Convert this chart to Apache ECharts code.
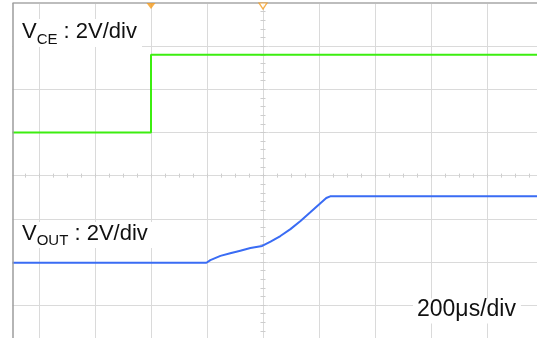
<!DOCTYPE html>
<html><head><meta charset="utf-8">
<script src="https://cdn.jsdelivr.net/npm/echarts@6/dist/echarts.min.js"></script>
<style>html,body{margin:0;padding:0;background:#fff}#c{width:537px;height:338px}</style>
</head><body><div id="c"></div>
<script>
// time in µs relative to screen centre (200 µs/div), vertical in divisions
const vceTime = [-1000, -400, -400, 1000];
const vceDiv = [1.0, 1.0, 2.8, 2.8];
const voutTime = [-1000, -202, -188, -152, -117, -81, -45, -3, 27, 62, 98, 134, 169, 205, 226, 240, 1000];
const voutDiv = [-2.02, -2.02, -1.96, -1.86, -1.80, -1.74, -1.68, -1.63, -1.53, -1.40, -1.24, -1.05, -0.85, -0.64, -0.52, -0.48, -0.48];
const triggerTime = [-400];
const centerTime = [0];
const vceLabel = ['V', 'CE', ' : 2V/div'];
const voutLabel = ['V', 'OUT', ' : 2V/div'];
const timeLabel = '200μs/div';

const FONT = 'Liberation Sans, Arial, sans-serif';
const gridColor = '#dadada';
const tickColor = '#cdcdcd';
const xMin = -1000, xMax = 1000, yMin = -4, yMax = 4;

function tickAxis(pos, splitNum, len) {
  const vertical = pos === 'left' || pos === 'right';
  return {
    type: 'value', min: vertical ? yMin : xMin, max: vertical ? yMax : xMax,
    interval: vertical ? 1 : 200,
    position: pos,
    axisLine: { show: true, onZero: true, lineStyle: { color: gridColor, width: 1 } },
    axisTick: { show: true, length: len, lineStyle: { color: tickColor } },
    minorTick: { show: true, splitNumber: splitNum, length: len, lineStyle: { color: tickColor } },
    axisLabel: { show: false },
    splitLine: { show: false }
  };
}
function txt(size, lh, extra) {
  return Object.assign({ fontSize: size, fontFamily: FONT, fontWeight: 'normal', color: '#111', lineHeight: lh }, extra || {});
}

const chart = echarts.init(document.getElementById('c'), null, { renderer: 'canvas' });
chart.setOption({
  animation: false,
  backgroundColor: '#fff',
  grid: { left: -17, right: -6, top: 3, bottom: -10.2, containLabel: false, outerBoundsMode: 'none' },
  xAxis: [
    {
      type: 'value', min: xMin, max: xMax, interval: 200, position: 'top',
      axisLine: { show: true, onZero: false, lineStyle: { color: '#bdbdbd', width: 2 } },
      axisTick: { show: false }, axisLabel: { show: false },
      splitLine: { show: true, lineStyle: { color: gridColor, width: 1 } }
    },
    tickAxis('bottom', 4, 2),
    tickAxis('top', 4, 2)
  ],
  yAxis: [
    {
      type: 'value', min: yMin, max: yMax, interval: 1, position: 'left',
      axisLine: { show: false, onZero: false }, axisTick: { show: false }, axisLabel: { show: false },
      splitLine: { show: true, lineStyle: { color: gridColor, width: 1 } }
    },
    tickAxis('left', 5, 2.5),
    tickAxis('right', 5, 2.5)
  ],
  title: [
    {
      text: '{v|' + vceLabel[0] + '}{s|' + vceLabel[1] + '}{v|' + vceLabel[2] + '}',
      left: 13, top: 15, padding: [2, 5, 0, 9], backgroundColor: '#fff',
      textStyle: { fontWeight: 'normal', rich: {
        v: txt(22, 30),
        s: txt(15, 30, { verticalAlign: 'bottom' })
      } }
    },
    {
      text: '{v|' + voutLabel[0] + '}{s|' + voutLabel[1] + '}{v|' + voutLabel[2] + '}',
      left: 13, top: 219, padding: [1, 5, 0, 9], backgroundColor: '#fff',
      textStyle: { fontWeight: 'normal', rich: {
        v: txt(22, 28),
        s: txt(15, 27, { verticalAlign: 'bottom' })
      } }
    },
    {
      text: '{v|' + timeLabel + '}',
      left: 413, top: 295, padding: [0, 5, 2, 4], backgroundColor: '#fff',
      textStyle: { fontWeight: 'normal', rich: { v: txt(23, 30) } }
    }
  ],
  graphic: [
    { type: 'rect', shape: { x: 0, y: 0, width: 12.5, height: 338 }, style: { fill: '#fff' }, z: 100 },
    { type: 'line', shape: { x1: 13, y1: 3, x2: 13, y2: 338 }, style: { stroke: '#9c9c9c', lineWidth: 1.5 }, z: 101 }
  ],
  series: [
    {
      type: 'line', name: 'VCE', xAxisIndex: 0, yAxisIndex: 0,
      data: vceTime.map((t, i) => [t, vceDiv[i]]),
      symbol: 'none', lineStyle: { color: '#3cee10', width: 2 }, z: 3
    },
    {
      type: 'line', name: 'VOUT', xAxisIndex: 0, yAxisIndex: 0,
      data: voutTime.map((t, i) => [t, voutDiv[i]]),
      symbol: 'none', lineStyle: { color: '#3a6cf4', width: 2 }, z: 3
    },
    {
      type: 'scatter', xAxisIndex: 0, yAxisIndex: 0, clip: false, z: 5,
      data: triggerTime.map(t => [t, yMax]),
      symbol: 'path://M0,0 L10,0 L5,6 Z', symbolSize: [9, 6], symbolOffset: [0, 3],
      itemStyle: { color: '#f59b1c' }
    },
    {
      type: 'scatter', xAxisIndex: 0, yAxisIndex: 0, clip: false, z: 5,
      data: centerTime.map(t => [t, yMax]),
      symbol: 'path://M0,0 L10,0 L5,6 Z', symbolSize: [8, 6], symbolOffset: [0, 3],
      itemStyle: { color: '#fff', borderColor: '#f59b1c', borderWidth: 1.2 }
    }
  ]
});
</script></body></html>
